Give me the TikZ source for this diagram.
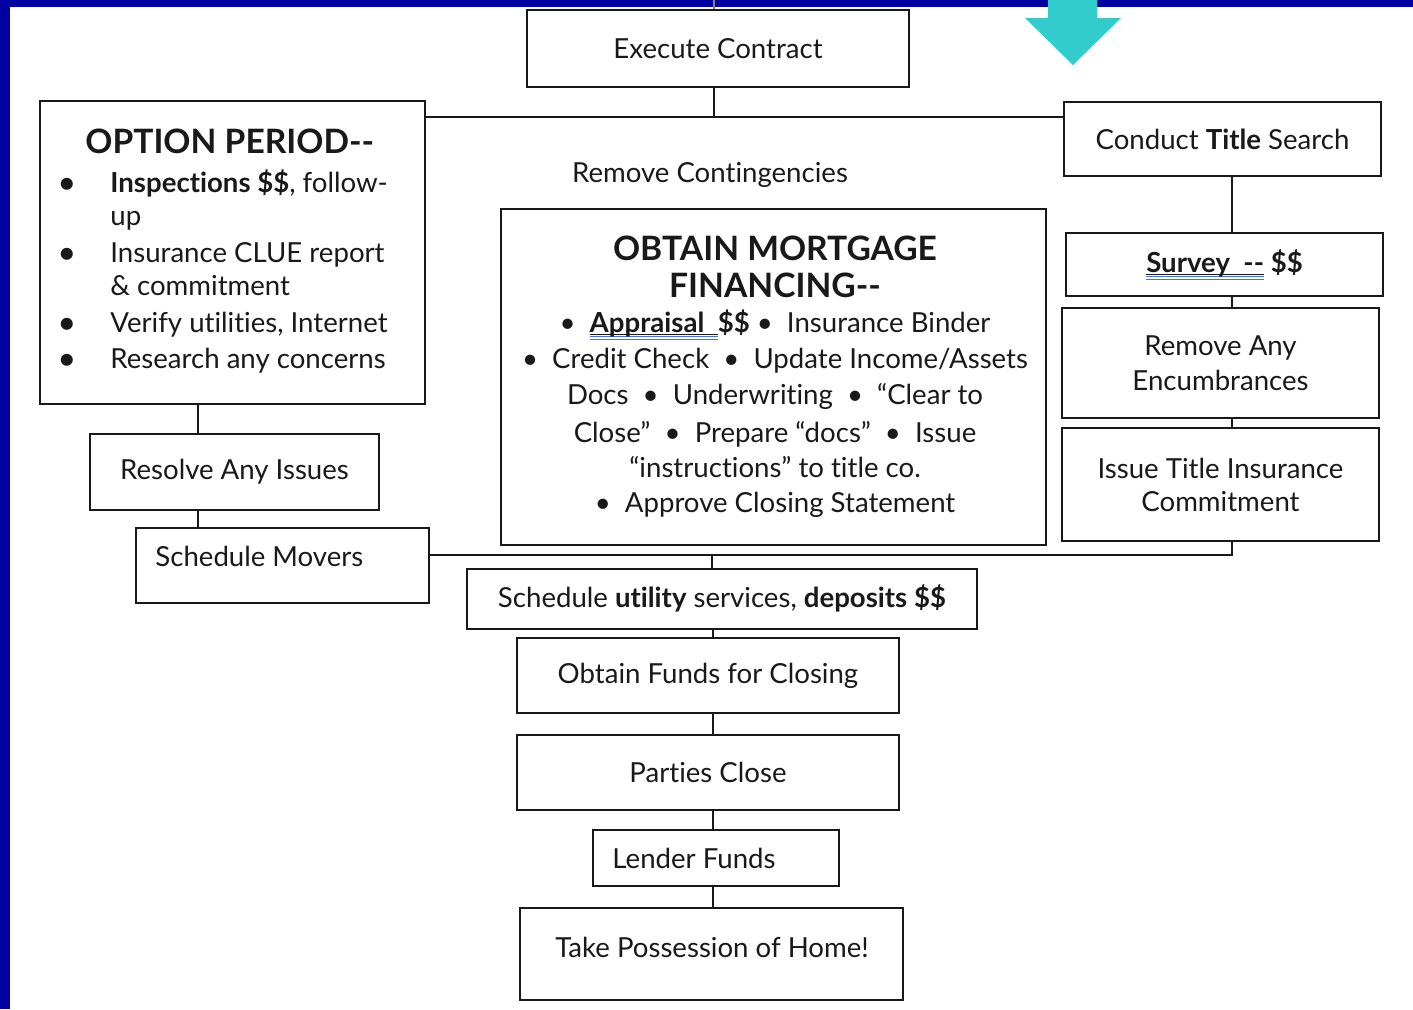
\documentclass[tikz,border=0pt]{standalone}
\usepackage{fontspec}
\setmainfont{Lato}[Ligatures={NoCommon}]
\usetikzlibrary{calc}
\definecolor{bgblue}{RGB}{0,0,160}
\definecolor{arrteal}{RGB}{51,204,204}
\definecolor{ulblue}{RGB}{70,110,230}
\definecolor{ink}{RGB}{25,25,25}
\newcommand\bodyf{\fontsize{13.8}{17.5}\selectfont}
\newcommand\headf{\fontsize{16.8}{20}\selectfont\bfseries}
\newcommand\dd{-\kern0pt-}
\newcommand\spell[1]{\setbox0=\hbox{#1}\rlap{\color{ulblue}\rule[-3.8pt]{\wd0}{0.45pt}}\rlap{\color{ulblue}\rule[-2.6pt]{\wd0}{0.45pt}}\rlap{\color{ink}\rule[-1.5pt]{\wd0}{0.6pt}}\box0}
\tikzset{
  box/.style={draw=ink, line width=1pt, inner sep=0pt, align=center, font=\bodyf, text=ink},
  conn/.style={draw=ink, line width=1pt},
  txt/.style={inner sep=0pt, anchor=base, font=\bodyf, text=ink},
  txtw/.style={txt, anchor=base west},
  bul/.style={txt, font=\bodyf\bfseries},
}
\begin{document}
\begin{tikzpicture}[x=0.5pt,y=-0.5pt]
\useasboundingbox (0,0) rectangle (1413,1009);
% background frame
\fill[bgblue] (0,0) rectangle (1413,1009);
\fill[white] (10,7) rectangle (1413,1009);
% teal arrow
\fill[arrteal] (1048,-2) -- (1097,-2) -- (1097,18) -- (1121,18) -- (1073,65) -- (1025,18) -- (1048,18) -- cycle;

% boxes
\node[box, minimum width=191pt, minimum height=38.5pt] (exec) at (718,48.5) {Execute Contract};
\node[box, minimum width=192.5pt, minimum height=151.5pt] (option) at (232.5,252.5) {};
\node[box, minimum width=158.5pt, minimum height=37pt] (title) at (1222.5,139) {Conduct \textbf{Title} Search};
\node[box, minimum width=272.5pt, minimum height=168pt] (mort) at (773.5,377) {};
\node[box, minimum width=158.5pt, minimum height=31.5pt] (survey) at (1224.5,264.5) {\textbf{\spell{Survey\ \ \dd}\ \$\$}};
\node[box, minimum width=158.5pt, minimum height=55pt] (encum) at (1220.5,363) {Remove Any\\Encumbrances};
\node[box, minimum width=158.5pt, minimum height=56.5pt] (issue) at (1220.5,484.5) {Issue Title Insurance\\[-1pt]Commitment};
\node[box, minimum width=144.5pt, minimum height=38pt] (resolve) at (234.5,472) {Resolve Any Issues};
\node[box, minimum width=146.5pt, minimum height=37.5pt] (movers) at (282.5,565.5) {};
\node[box, minimum width=255pt, minimum height=30pt] (util) at (722,598.5) {Schedule \textbf{utility} services, \textbf{deposits \$\$}};
\node[box, minimum width=191pt, minimum height=37.5pt] (funds) at (708,675.5) {Obtain Funds for Closing};
\node[box, minimum width=191pt, minimum height=37.5pt] (parties) at (708,772.5) {Parties Close};
\node[box, minimum width=123pt, minimum height=28pt] (lender) at (716,858) {};
\node[box, minimum width=191.5pt, minimum height=46pt] (poss) at (711.5,954) {};

% free texts
\node[txt] (contg) at (710,182) {Remove Contingencies};
\node[txtw] (moverst) at (155,566) {Schedule Movers};
\node[txt] (lendert) at (694,868) {Lender Funds};
\node[txt] (posst) at (712,957) {Take Possession of Home!};

% option period content
\node[txtw, font=\headf] (oph) at (85,153) {OPTION PERIOD\dd};
\node[bul] (ob1) at (67,192) {•};
\node[bul] (ob2) at (67,262) {•};
\node[bul] (ob3) at (67,332) {•};
\node[bul] (ob4) at (67,368) {•};
\node[txtw] (ol1) at (110,192) {\textbf{Inspections \$\$}, follow-};
\node[txtw] (ol2) at (110,225) {up};
\node[txtw] (ol3) at (110,262) {Insurance CLUE report};
\node[txtw] (ol4) at (110,295) {\& commitment};
\node[txtw] (ol5) at (110,332) {Verify utilities, Internet};
\node[txtw] (ol6) at (110,368) {Research any concerns};

% mortgage content
\node[txt, font=\headf] (mh1) at (775,260) {OBTAIN MORTGAGE};
\node[txt, font=\headf] (mh2) at (775,297) {FINANCING\dd};
\node[txt] (ml1) at (775,332) {•\ \ \textbf{\spell{Appraisal\ \ }\$\$}\ •\ \ Insurance Binder};
\node[txt] (ml2) at (775,368) {•\ \ Credit Check\ \ •\ \ Update Income/Assets};
\node[txt] (ml3) at (775,404) {Docs\ \ •\ \ Underwriting\ \ •\ \ “Clear to};
\node[txt] (ml4) at (775,442) {Close”\ \ •\ \ Prepare “docs”\ \ •\ \ Issue};
\node[txt] (ml5) at (775,477) {“instructions” to title co.};
\node[txt] (ml6) at (775,512) {•\ \ Approve Closing Statement};

% junction coordinates
\coordinate (topc) at (714,0);
\coordinate (jtop) at (714,117);
\coordinate (rcol) at (1232,0);
\coordinate (lcol) at (198,0);
\coordinate (ccol) at (713,0);
\coordinate (jbot) at (712,555);
\coordinate (jr) at (1232,555);

% connectors
\draw[conn, draw=gray] (topc) -- (topc |- exec.north);
\draw[conn] (exec.south -| jtop) -- (jtop);
\draw[conn] (jtop -| option.east) -- (jtop -| title.west);
\draw[conn] (title.south -| rcol) -- (survey.north -| rcol);
\draw[conn] (survey.south -| rcol) -- (encum.north -| rcol);
\draw[conn] (encum.south -| rcol) -- (issue.north -| rcol);
\draw[conn] (issue.south -| rcol) -- (jr) -- (jr -| movers.east);
\draw[conn] (jbot) -- (util.north -| jbot);
\draw[conn] (option.south -| lcol) -- (resolve.north -| lcol);
\draw[conn] (resolve.south -| lcol) -- (movers.north -| lcol);
\draw[conn] (util.south -| ccol) -- (funds.north -| ccol);
\draw[conn] (funds.south -| ccol) -- (parties.north -| ccol);
\draw[conn] (parties.south -| ccol) -- (lender.north -| ccol);
\draw[conn] (lender.south -| ccol) -- (poss.north -| ccol);
\end{tikzpicture}
\end{document}
